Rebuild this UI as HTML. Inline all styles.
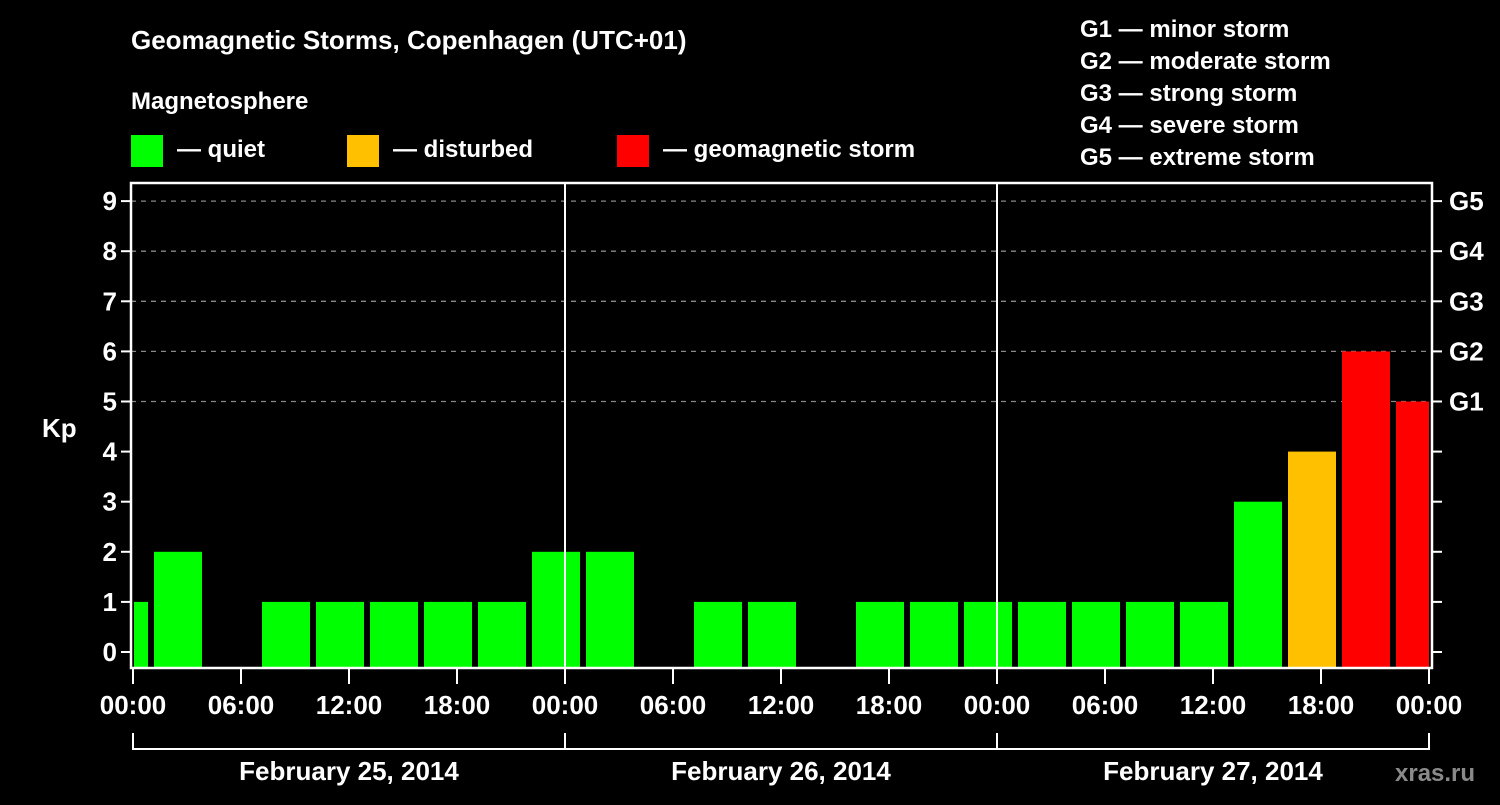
<!DOCTYPE html>
<html><head><meta charset="utf-8"><style>
body{margin:0;background:#000;}
svg text{font-family:"Liberation Sans",sans-serif;font-weight:bold;fill:#fff;}
</style></head><body>
<svg id="chart" width="1500" height="800" xmlns="http://www.w3.org/2000/svg">
<rect width="1500" height="800" fill="#000"/>
<text x="131" y="49" font-size="26">Geomagnetic Storms, Copenhagen (UTC+01)</text>
<text x="131" y="109" font-size="24">Magnetosphere</text>
<g><rect x="131" y="135" width="32" height="32" fill="#00ff00"/><text x="177" y="157" font-size="24">— quiet</text></g>
<g><rect x="347" y="135" width="32" height="32" fill="#ffc000"/><text x="393" y="157" font-size="24">— disturbed</text></g>
<g><rect x="617" y="135" width="32" height="32" fill="#ff0000"/><text x="663" y="157" font-size="24">— geomagnetic storm</text></g>
<g font-size="24">
<text x="1080" y="37">G1 — minor storm</text>
<text x="1080" y="69">G2 — moderate storm</text>
<text x="1080" y="101">G3 — strong storm</text>
<text x="1080" y="133">G4 — severe storm</text>
<text x="1080" y="165">G5 — extreme storm</text>
</g>
<text x="42" y="437" font-size="26">Kp</text>
<text x="1395" y="781" font-size="24" style="fill:#8a8a8a">xras.ru</text>
<g id="grid"></g><g id="bars"></g><g id="axes"></g>
</svg>
<script>
const kpValues=[1,2,null,1,1,1,1,1,2,2,null,1,1,null,1,1,1,1,1,1,1,3,4,6,5];
const yTicks=[0,1,2,3,4,5,6,7,8,9];
const gLabels=["G1","G2","G3","G4","G5"];
const xTickLabels=["00:00","06:00","12:00","18:00","00:00","06:00","12:00","18:00","00:00","06:00","12:00","18:00","00:00"];
const dayLabels=["February 25, 2014","February 26, 2014","February 27, 2014"];
const NS="http://www.w3.org/2000/svg";
const X0=133,HPX=18,Y0=652,UPX=50.1,TOP=183,BOT=668,LEFT=131,RIGHT=1432;
const xs=h=>X0+h*HPX, ys=v=>Y0-v*UPX;
function mk(tag,attrs,parent){const e=document.createElementNS(NS,tag);for(const k in attrs)e.setAttribute(k,attrs[k]);document.getElementById(parent).appendChild(e);return e;}
// grid
for(let v=5;v<=9;v++){const l=mk('line',{x1:LEFT,x2:RIGHT,y1:ys(v),y2:ys(v),stroke:'#888','stroke-width':1.3,'stroke-dasharray':'5,5'},'grid');

}
// bars
kpValues.forEach((v,i)=>{if(v===null)return;
let a=xs(-2+i*3)+3,b=xs(1+i*3)-3;a=Math.max(a,LEFT+3);b=Math.min(b,RIGHT-3);
const col=v>=5?'#ff0000':(v>=4?'#ffc000':'#00ff00');
const r=mk('rect',{x:a,y:ys(v),width:b-a,height:BOT-ys(v),fill:col},'bars');

});
// frame
const fr=mk('rect',{x:LEFT,y:TOP,width:RIGHT-LEFT,height:BOT-TOP,fill:'none',stroke:'#fff','stroke-width':2.5},'axes');


[24,48].forEach(h=>{const l=mk('line',{x1:xs(h),x2:xs(h),y1:TOP,y2:BOT,stroke:'#fff','stroke-width':2},'axes');

});
yTicks.forEach(v=>{const y=ys(v);
const t=mk('line',{x1:LEFT-10,x2:LEFT,y1:y,y2:y,stroke:'#fff','stroke-width':2},'axes');


const t2=mk('line',{x1:RIGHT,x2:RIGHT+10,y1:y,y2:y,stroke:'#fff','stroke-width':2},'axes');


const tx=mk('text',{x:117,y:y+9,'font-size':26,'text-anchor':'end'},'axes');tx.textContent=v;

});
gLabels.forEach((g,i)=>{const tx=mk('text',{x:1449,y:ys(5+i)+9,'font-size':26},'axes');tx.textContent=g;

});
xTickLabels.forEach((s,i)=>{const x=xs(i*6);
const t=mk('line',{x1:x,x2:x,y1:BOT,y2:BOT+16,stroke:'#fff','stroke-width':2},'axes');


const tx=mk('text',{x:x,y:714,'font-size':26,'text-anchor':'middle'},'axes');tx.textContent=s;

});
const br=mk('line',{x1:xs(0),x2:xs(72),y1:749,y2:749,stroke:'#fff','stroke-width':2},'axes');


[0,24,48,72].forEach(h=>{const l=mk('line',{x1:xs(h),x2:xs(h),y1:733,y2:750,stroke:'#fff','stroke-width':2},'axes');

});
dayLabels.forEach((d,i)=>{const tx=mk('text',{x:xs(i*24+12),y:780,'font-size':26,'text-anchor':'middle'},'axes');tx.textContent=d;

});
</script>
</body></html>
